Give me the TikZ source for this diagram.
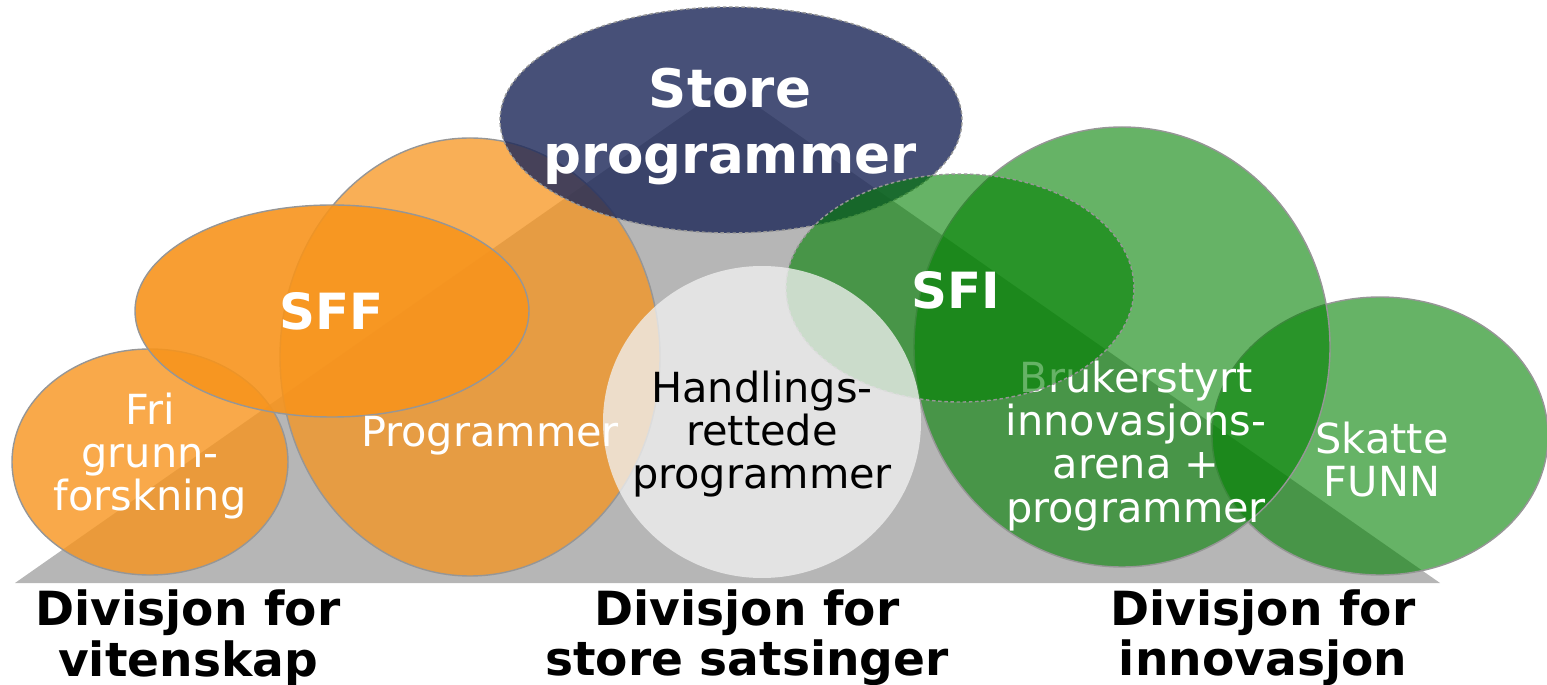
\documentclass[tikz,border=0pt]{standalone}
\usepackage{fontspec}
\setmainfont{DejaVu Sans}
\usepackage{tikz}
\definecolor{navyblob}{RGB}{31,42,90}
\definecolor{orangeblob}{RGB}{247,148,29}
\definecolor{greenblob}{RGB}{0,128,0}
\definecolor{paleblob}{RGB}{240,240,240}
\definecolor{greyrim}{RGB}{150,150,150}
\definecolor{greytri}{RGB}{182,182,182}

\begin{document}
\begin{tikzpicture}[x=0.02cm, y=0.02cm]
\tikzstyle{every node}+=[inner sep=0pt, align=center]
\tikzstyle{rim}=[draw=greyrim, line width=0.8pt]
\tikzstyle{dashrim}=[draw=greyrim, line width=0.8pt, dash pattern=on 2pt off 1.5pt]
\tikzstyle{headtext}=[font=\fontsize{30.2}{37.6}\selectfont\bfseries, text=white]
\tikzstyle{keytext}=[font=\fontsize{28.4}{34}\selectfont\bfseries, text=white]
\tikzstyle{softtext}=[font=\fontsize{23.6}{24.5}\selectfont, text=white]
\tikzstyle{divtext}=[font=\fontsize{26.8}{28.5}\selectfont\bfseries, text=black]
\useasboundingbox (0,0) rectangle (1547,-685);
\fill [greytri] (15,-583) -- (727,-85) -- (1440,-583) -- cycle;
\draw [rim, fill=orangeblob, fill opacity=0.8] (150,-462) ellipse (138 and 113);
\draw [rim, fill=orangeblob, fill opacity=0.75] (470,-357) ellipse (190 and 219);
\draw [rim, fill=orangeblob, fill opacity=0.9] (332,-311) ellipse (197 and 106);
\draw [dashrim, fill=navyblob, fill opacity=0.82] (731,-120) ellipse (231 and 113);
\draw [rim, fill=greenblob, fill opacity=0.6] (1380,-436) ellipse (168 and 139);
\draw [rim, fill=greenblob, fill opacity=0.6] (1122,-347) ellipse (208 and 220);
\node [softtext] (bruker) at (1136,-446) {Brukerstyrt\\innovasjons-\\arena +\\programmer};
\draw [dashrim, fill=greenblob, fill opacity=0.6] (960,-288) ellipse (174 and 114);
\fill [paleblob, fill opacity=0.78] (762,-422) ellipse (159 and 156);
\node [headtext] (store) at (730,-127) {Store\\programmer};
\node [keytext] (sff) at (332,-311) {SFF};
\node [keytext] (sfi) at (956,-290) {SFI};
\node [softtext] (fri) at (150,-456) {Fri\\grunn-\\forskning};
\node [softtext] (prog) at (490,-436) {Programmer};
\node [softtext, text=black] (handl) at (762,-434) {Handlings-\\rettede\\programmer};
\node [softtext] (skatt) at (1382,-460) {Skatte\\FUNN};
\node [divtext] (vit) at (188,-638) {Divisjon for\\vitenskap};
\node [divtext] (stor) at (747,-638) {Divisjon for\\store satsinger};
\node [divtext] (innov) at (1263,-638) {Divisjon for\\innovasjon};
\end{tikzpicture}
\end{document}
